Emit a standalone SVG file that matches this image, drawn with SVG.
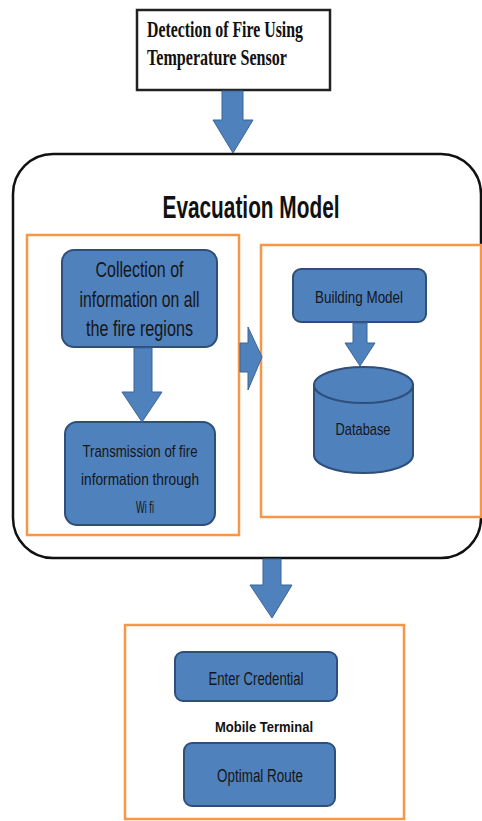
<svg xmlns="http://www.w3.org/2000/svg" width="482" height="821" viewBox="0 0 482 821">
<style>
.bg{fill:#ffffff}
.orange{fill:#ffffff;stroke:#F79646;stroke-width:2.5}
.blue{fill:#4F81BD;stroke:#2F4F7A;stroke-width:2}
.arrow{fill:#4F81BD;stroke:#3B6596;stroke-width:1}
.t{font-family:"Liberation Sans",Arial,sans-serif;fill:#161616;text-anchor:middle}
.tb{font-family:"Liberation Sans",Arial,sans-serif;font-weight:bold;fill:#111;text-anchor:middle}
.ts{font-family:"Liberation Serif","Times New Roman",serif;font-weight:bold;fill:#111}
</style>
<rect class="bg" x="0" y="0" width="482" height="821"/>

<g id="detection">
<rect x="137" y="10" width="193" height="80" fill="#ffffff" stroke="#222" stroke-width="2.5"/>
<text class="ts" x="147" y="37" font-size="23" textLength="156" lengthAdjust="spacingAndGlyphs">Detection of Fire Using</text>
<text class="ts" x="147" y="65" font-size="23" textLength="140" lengthAdjust="spacingAndGlyphs">Temperature Sensor</text>
</g>

<g id="evacuation-model">
<rect x="13" y="154" width="468" height="404" rx="40" ry="40" fill="#ffffff" stroke="#111" stroke-width="2.5"/>
<text class="tb" x="251" y="218" font-size="32" textLength="177" lengthAdjust="spacingAndGlyphs">Evacuation Model</text>
</g>

<g id="left-group">
<rect class="orange" x="27" y="235" width="212" height="300"/>
</g>

<g id="right-group">
<rect class="orange" x="261" y="245" width="220" height="272"/>
</g>

<g id="collection">
<rect class="blue" x="62" y="250" width="155" height="97" rx="12" ry="12"/>
<text class="t" x="139.5" y="277" font-size="22" textLength="88" lengthAdjust="spacingAndGlyphs">Collection of</text>
<text class="t" x="139.5" y="307" font-size="22" textLength="120" lengthAdjust="spacingAndGlyphs">information on all</text>
<text class="t" x="139.5" y="336" font-size="22" textLength="107" lengthAdjust="spacingAndGlyphs">the fire regions</text>
</g>

<g id="transmission">
<rect class="blue" x="65" y="422" width="150" height="103" rx="12" ry="12"/>
<text class="t" x="140" y="457" font-size="17" textLength="115" lengthAdjust="spacingAndGlyphs">Transmission of fire</text>
<text class="t" x="140" y="485" font-size="17" textLength="118" lengthAdjust="spacingAndGlyphs">information through</text>
<text class="t" x="145" y="513" font-size="17" textLength="18" lengthAdjust="spacingAndGlyphs">Wi fi</text>
</g>

<g id="building-model">
<rect class="blue" x="293" y="269" width="133" height="53" rx="8" ry="8"/>
<text class="t" x="359" y="303" font-size="17" textLength="88" lengthAdjust="spacingAndGlyphs">Building Model</text>
</g>

<g id="database">
<path class="blue" d="M314,385 L314,455 A49.5,18 0 0 0 413,455 L413,385 Z"/>
<ellipse class="blue" cx="363.5" cy="385" rx="49.5" ry="18"/>
<text class="t" x="363" y="435" font-size="17" textLength="55" lengthAdjust="spacingAndGlyphs">Database</text>
</g>

<g id="mobile-terminal">
<rect class="orange" x="125" y="625" width="279" height="194"/>
<text class="tb" x="264" y="732" font-size="15" textLength="98" lengthAdjust="spacingAndGlyphs">Mobile Terminal</text>
</g>

<g id="enter-credential">
<rect class="blue" x="175" y="652" width="162" height="49" rx="8" ry="8"/>
<text class="t" x="256" y="685" font-size="18" textLength="95" lengthAdjust="spacingAndGlyphs">Enter Credential</text>
</g>

<g id="optimal-route">
<rect class="blue" x="184" y="743" width="151" height="63" rx="8" ry="8"/>
<text class="t" x="260" y="782" font-size="18" textLength="86" lengthAdjust="spacingAndGlyphs">Optimal Route</text>
</g>

<g id="connectors">
<polygon class="arrow" points="222,91 243,91 243,120 253,120 233,153 213,120 222,120"/>
<polygon class="arrow" points="134,348 152,348 152,392 162,392 142,422 122,392 134,392"/>
<polygon class="arrow" points="240,343 248,343 248,327 262,357 248,390 248,372 240,372"/>
<polygon class="arrow" points="353,323 367,323 367,343 375,343 360,366 345,343 353,343"/>
<polygon class="arrow" points="263,559 281,559 281,585 292,585 272,618 250,585 263,585"/>
</g>
</svg>
